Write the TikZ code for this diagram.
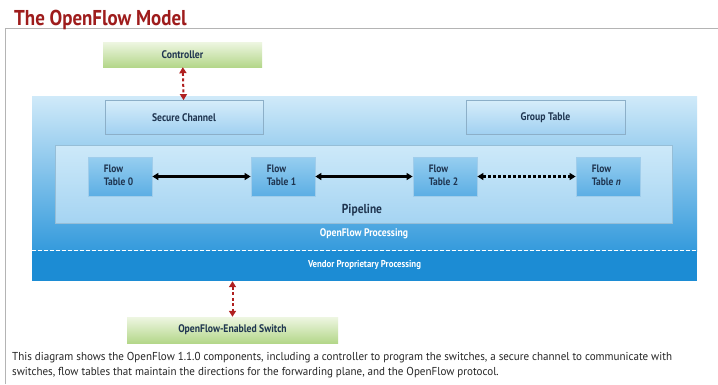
\documentclass[tikz,border=0pt]{standalone}
\usepackage{fontspec}
\setmainfont{PT Sans}
\newfontfamily\condf[FakeStretch=0.88]{PT Sans}
\newfontfamily\capf[FakeStretch=0.96]{PT Sans}
\usetikzlibrary{arrows.meta}
\definecolor{navy}{HTML}{1F3550}
\definecolor{titlered}{HTML}{9E1C1C}
\definecolor{arrred}{HTML}{B02020}
\definecolor{frame}{HTML}{B4B4B4}
\tikzset{
  lbl/.style={font=\condf\bfseries\fontsize{11}{12}\selectfont, text=navy},
  greenbox/.style={top color={rgb,255:red,238;green,246;blue,226}, bottom color={rgb,255:red,180;green,215;blue,138}, draw=none, inner sep=0pt, lbl},
  lightbox/.style={top color={rgb,255:red,214;green,237;blue,250}, bottom color={rgb,255:red,160;green,208;blue,241}, draw={rgb,255:red,140;green,175;blue,200}, line width=0.8pt, inner sep=0pt, lbl},
  pipebox/.style={top color={rgb,255:red,205;green,233;blue,249}, bottom color={rgb,255:red,165;green,212;blue,242}, draw={rgb,255:red,150;green,190;blue,215}, line width=0.8pt, inner sep=0pt},
  ftbox/.style={top color={rgb,255:red,150;green,206;blue,240}, bottom color={rgb,255:red,92;green,174;blue,228}, draw={rgb,255:red,160;green,205;blue,235}, line width=0.8pt, minimum width=64pt, minimum height=39pt, inner sep=0pt},
  fttext/.style={text=navy, align=left, anchor=north west, inner sep=0pt, font=\condf\bfseries\fontsize{10.75}{13}\selectfont},
  whitelbl/.style={font=\condf\bfseries\fontsize{11}{12}\selectfont, text=white},
  captext/.style={anchor=base west, inner sep=0pt, text=black!85, font=\capf\fontsize{11.5}{15}\selectfont},
  redarr/.style={draw=arrred, line width=2pt, dash pattern=on 3pt off 2.5pt, {Triangle[length=6pt,width=7pt]}-{Triangle[length=6pt,width=7pt]}},
  ftarr/.style={draw=black, line width=2.2pt, {Triangle[length=6pt,width=7pt]}-{Triangle[length=6pt,width=7pt]}},
}
\begin{document}
\begin{tikzpicture}[x=1pt,y=-1pt]
\useasboundingbox[fill=white] (0,0) rectangle (718,384);
% frame
\draw[frame, line width=0.8pt] (5,384) -- (5,28) -- (718,28);
% title
\node[anchor=base west, inner sep=0pt, text=titlered, font=\condf\bfseries\fontsize{21.5}{23}\selectfont] (title) at (14,25) {The OpenFlow Model};
% controller
\node[greenbox, minimum width=159pt, minimum height=25pt] (ctrl) at (182.5,54.5) {Controller};
% big processing box
\node[top color={rgb,255:red,208;green,234;blue,249}, bottom color={rgb,255:red,52;green,154;blue,220}, draw=none, minimum width=665pt, minimum height=155pt, inner sep=0pt] (ofp) at (364.5,173.5) {};
\node[fill={rgb,255:red,28;green,140;blue,212}, draw=none, minimum width=665pt, minimum height=30pt, inner sep=0pt] (vend) at (364.5,266) {};
\draw[white, line width=1.3pt, dash pattern=on 4pt off 2pt] (vend.north west) -- (vend.north east);
\node[whitelbl] (ofpl) at (364,234) {OpenFlow Processing};
\node[whitelbl, font=\condf\bfseries\fontsize{10}{11}\selectfont] (vendl) at (364.5,265) {Vendor Proprietary Processing};
% secure channel & group table
\node[lightbox, minimum width=158pt, minimum height=34pt] (sc) at (184,117.5) {Secure Channel};
\node[lightbox, minimum width=159pt, minimum height=34pt] (gt) at (545.5,117.5) {Group Table};
% pipeline
\node[pipebox, minimum width=617pt, minimum height=78pt] (pipe) at (363.5,184) {};
\node[lbl, font=\condf\bfseries\fontsize{13}{14}\selectfont] (pipel) at (362,210) {Pipeline};
% flow tables
\node[ftbox] (ft0) at (120,176.5) {};
\node[ftbox] (ft1) at (283,176.5) {};
\node[ftbox] (ft2) at (445,176.5) {};
\node[ftbox] (ftn) at (608,176.5) {};
\node[fttext] (t0) at ([xshift=16pt,yshift=-8pt]ft0.north west) {Flow\\Table 0};
\node[fttext] (t1) at ([xshift=16pt,yshift=-8pt]ft1.north west) {Flow\\Table 1};
\node[fttext] (t2) at ([xshift=16pt,yshift=-8pt]ft2.north west) {Flow\\Table 2};
\node[fttext] (tn) at ([xshift=16pt,yshift=-8pt]ftn.north west) {Flow\\Table \textit{n}};
\draw[ftarr] (ft0) -- (ft1);
\draw[ftarr] (ft1) -- (ft2);
\draw[ftarr, dash pattern=on 3pt off 2pt] (ft2) -- (ftn);
% switch
\node[greenbox, minimum width=211pt, minimum height=26pt] (sw) at (232.5,330) {OpenFlow-Enabled Switch};
% red arrows
\draw[redarr] (ctrl) -- (sc);
\draw[redarr] (sw.north |- vend.south) -- (sw.north);
% caption
\node[captext] (cap1) at (12,360) {This diagram shows the OpenFlow 1.1.0 components, including a controller to program the switches, a secure channel to communicate with};
\node[captext] (cap2) at (12,375) {switches, flow tables that maintain the directions for the forwarding plane, and the OpenFlow protocol.};
\end{tikzpicture}
\end{document}
